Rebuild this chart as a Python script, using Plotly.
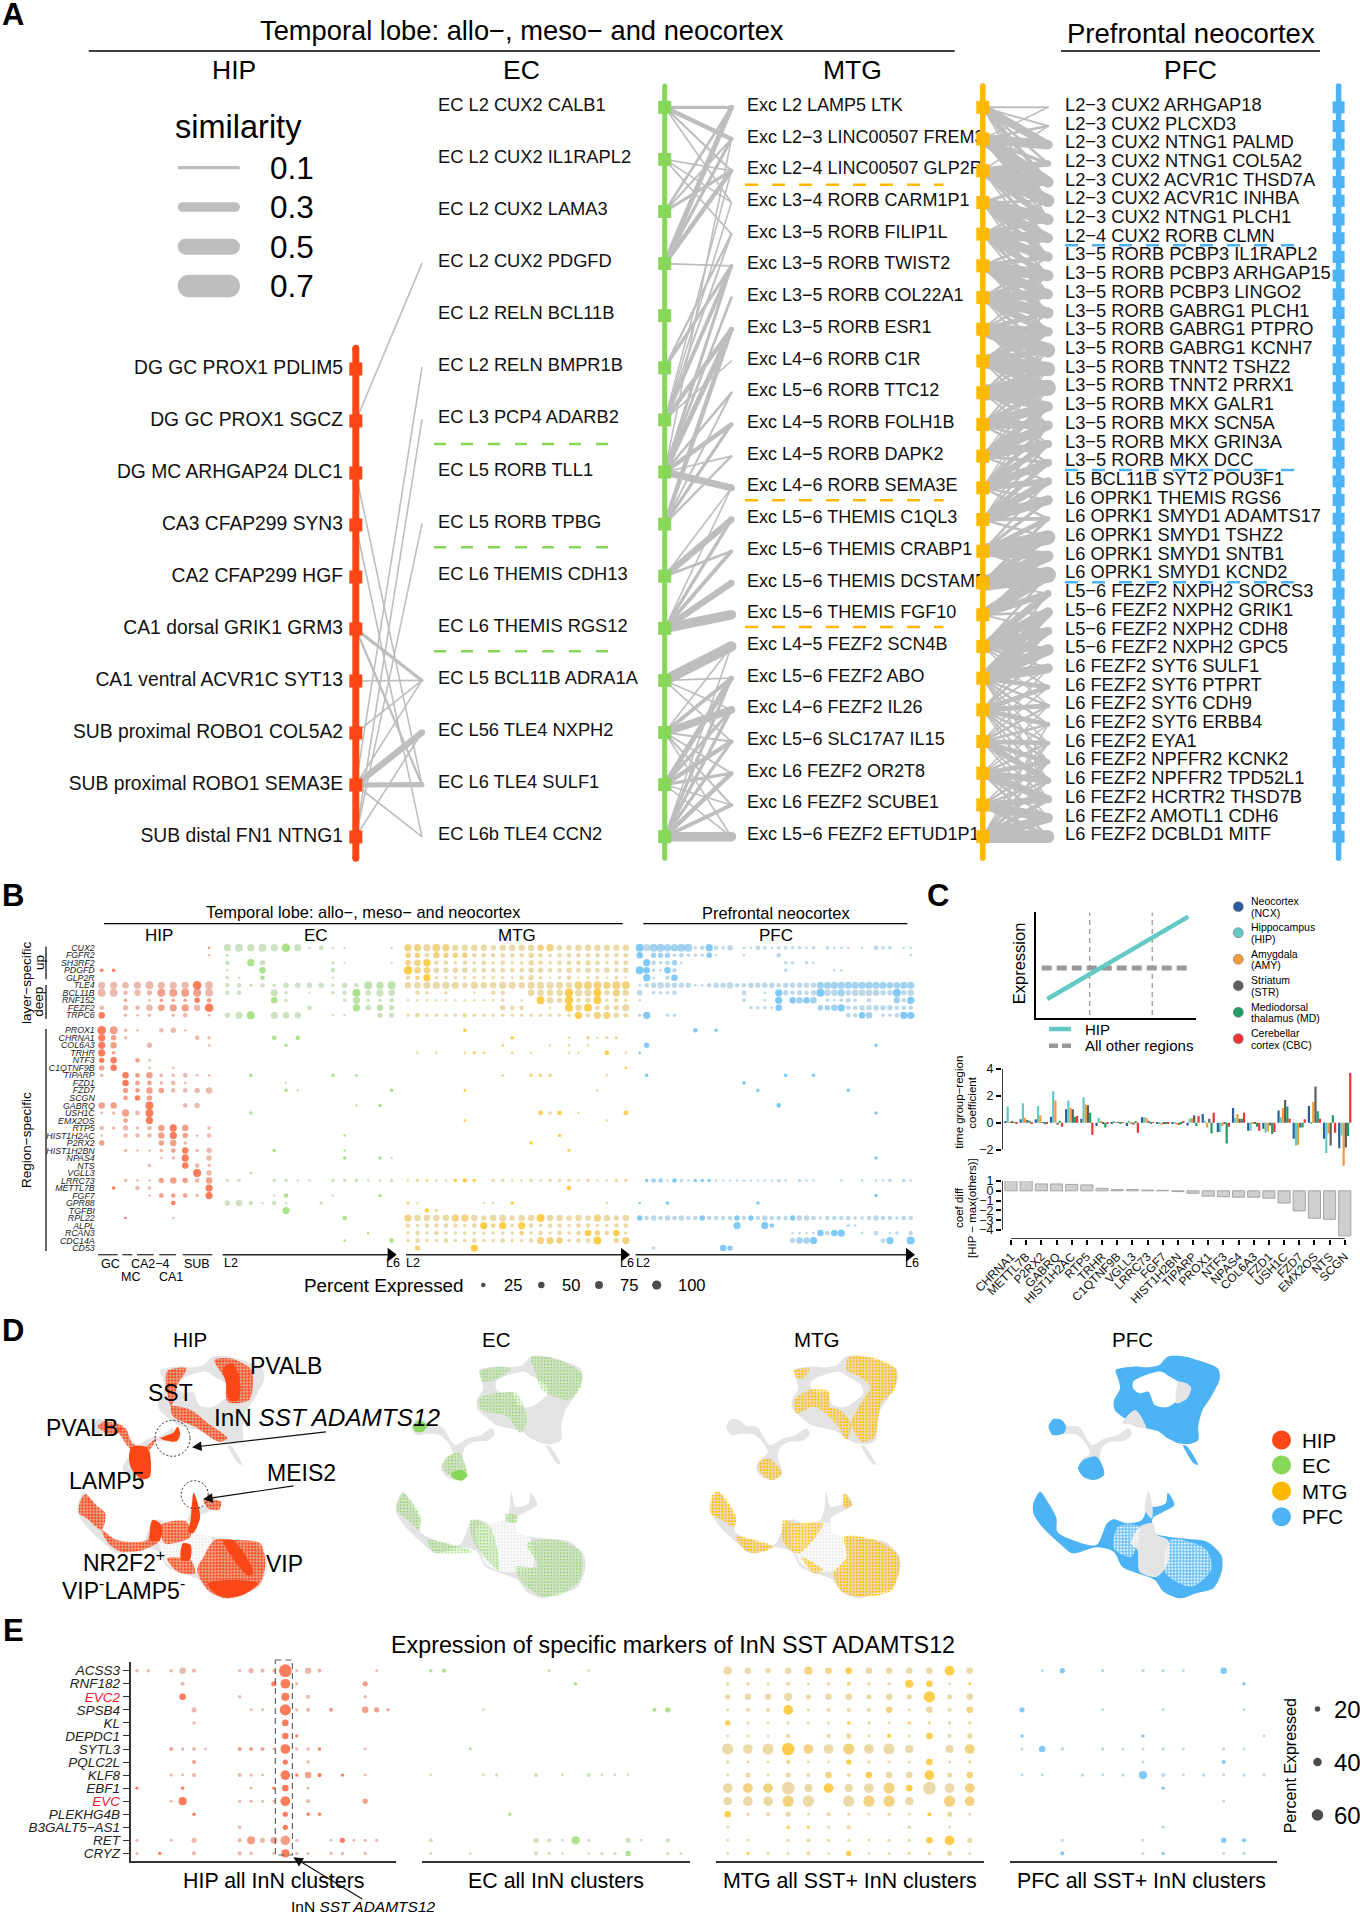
import math
import plotly.graph_objects as go

W, H = 1360, 1913
FONT = 'Liberation Sans'
RED, GREEN, ORANGE, BLUE = '#FB4616', '#87D75A', '#FFB800', '#4CB4F5'
EDGE = '#BEBEBE'

# --- PANEL A DATA ---
HIP_NODES = ['DG GC PROX1 PDLIM5', 'DG GC PROX1 SGCZ', 'DG MC ARHGAP24 DLC1', 'CA3 CFAP299 SYN3', 'CA2 CFAP299 HGF',
             'CA1 dorsal GRIK1 GRM3', 'CA1 ventral ACVR1C SYT13', 'SUB proximal ROBO1 COL5A2',
             'SUB proximal ROBO1 SEMA3E', 'SUB distal FN1 NTNG1']
EC_NODES = ['EC L2 CUX2 CALB1', 'EC L2 CUX2 IL1RAPL2', 'EC L2 CUX2 LAMA3', 'EC L2 CUX2 PDGFD', 'EC L2 RELN BCL11B',
            'EC L2 RELN BMPR1B', 'EC L3 PCP4 ADARB2', 'EC L5 RORB TLL1', 'EC L5 RORB TPBG', 'EC L6 THEMIS CDH13',
            'EC L6 THEMIS RGS12', 'EC L5 BCL11B ADRA1A', 'EC L56 TLE4 NXPH2', 'EC L6 TLE4 SULF1', 'EC L6b TLE4 CCN2']
MTG_NODES = ['Exc L2 LAMP5 LTK', 'Exc L2−3 LINC00507 FREM3', 'Exc L2−4 LINC00507 GLP2R', 'Exc L3−4 RORB CARM1P1',
             'Exc L3−5 RORB FILIP1L', 'Exc L3−5 RORB TWIST2', 'Exc L3−5 RORB COL22A1', 'Exc L3−5 RORB ESR1',
             'Exc L4−6 RORB C1R', 'Exc L5−6 RORB TTC12', 'Exc L4−5 RORB FOLH1B', 'Exc L4−5 RORB DAPK2',
             'Exc L4−6 RORB SEMA3E', 'Exc L5−6 THEMIS C1QL3', 'Exc L5−6 THEMIS CRABP1', 'Exc L5−6 THEMIS DCSTAMP',
             'Exc L5−6 THEMIS FGF10', 'Exc L4−5 FEZF2 SCN4B', 'Exc L5−6 FEZF2 ABO', 'Exc L4−6 FEZF2 IL26',
             'Exc L5−6 SLC17A7 IL15', 'Exc L6 FEZF2 OR2T8', 'Exc L6 FEZF2 SCUBE1', 'Exc L5−6 FEZF2 EFTUD1P1']
PFC_NODES = ['L2−3 CUX2 ARHGAP18', 'L2−3 CUX2 PLCXD3', 'L2−3 CUX2 NTNG1 PALMD', 'L2−3 CUX2 NTNG1 COL5A2',
             'L2−3 CUX2 ACVR1C THSD7A', 'L2−3 CUX2 ACVR1C INHBA', 'L2−3 CUX2 NTNG1 PLCH1', 'L2−4 CUX2 RORB CLMN',
             'L3−5 RORB PCBP3 IL1RAPL2', 'L3−5 RORB PCBP3 ARHGAP15', 'L3−5 RORB PCBP3 LINGO2',
             'L3−5 RORB GABRG1 PLCH1', 'L3−5 RORB GABRG1 PTPRO', 'L3−5 RORB GABRG1 KCNH7', 'L3−5 RORB TNNT2 TSHZ2',
             'L3−5 RORB TNNT2 PRRX1', 'L3−5 RORB MKX GALR1', 'L3−5 RORB MKX SCN5A', 'L3−5 RORB MKX GRIN3A',
             'L3−5 RORB MKX DCC', 'L5 BCL11B SYT2 POU3F1', 'L6 OPRK1 THEMIS RGS6', 'L6 OPRK1 SMYD1 ADAMTS17',
             'L6 OPRK1 SMYD1 TSHZ2', 'L6 OPRK1 SMYD1 SNTB1', 'L6 OPRK1 SMYD1 KCND2', 'L5−6 FEZF2 NXPH2 SORCS3',
             'L5−6 FEZF2 NXPH2 GRIK1', 'L5−6 FEZF2 NXPH2 CDH8', 'L5−6 FEZF2 NXPH2 GPC5', 'L6 FEZF2 SYT6 SULF1',
             'L6 FEZF2 SYT6 PTPRT', 'L6 FEZF2 SYT6 CDH9', 'L6 FEZF2 SYT6 ERBB4', 'L6 FEZF2 EYA1',
             'L6 FEZF2 NPFFR2 KCNK2', 'L6 FEZF2 NPFFR2 TPD52L1', 'L6 FEZF2 HCRTR2 THSD7B', 'L6 FEZF2 AMOTL1 CDH6',
             'L6 FEZF2 DCBLD1 MITF']
HIP_EC_EDGES = [(1, 3, .05), (8, 5, .05), (9, 6, .05), (9, 8, .05), (2, 13, .05), (3, 14, .05), (5, 11, .1), (5, 13, .07),
                (6, 11, .05), (8, 11, .05), (8, 12, .2), (8, 13, .16), (8, 14, .05), (9, 12, .05), (7, 11, .05)]
EC_MTG_EDGES = [(0, 0, .1), (0, 1, .14), (0, 2, .07), (0, 3, .05), (1, 2, .05), (1, 3, .05), (1, 4, .05), (2, 0, .08),
                (2, 1, .06), (2, 2, .1), (3, 0, .16), (3, 1, .1), (3, 2, .14), (3, 5, .05), (5, 4, .07), (5, 5, .1),
                (6, 5, .12), (6, 7, .14), (6, 4, .06), (6, 8, .05), (6, 3, .05), (7, 5, .1), (7, 7, .16), (7, 10, .14),
                (7, 11, .05), (7, 12, .22), (7, 9, .08), (7, 6, .08), (8, 7, .14), (8, 10, .1), (8, 11, .07), (8, 9, .06),
                (9, 13, .2), (9, 12, .05), (9, 14, .08), (10, 14, .12), (10, 15, .2), (10, 16, .3), (10, 13, .1),
                (10, 12, .05), (11, 17, .32), (11, 19, .05), (11, 18, .05), (12, 18, .12), (12, 19, .24), (12, 20, .06),
                (12, 21, .06), (12, 17, .05), (13, 20, .14), (13, 21, .1), (13, 18, .16), (13, 19, .1), (13, 22, .05),
                (14, 23, .3), (14, 22, .12), (14, 21, .14), (14, 20, .1), (14, 19, .1), (14, 18, .1),
                (12, 22, .06), (13, 23, .05), (12, 23, .05), (11, 20, .05), (14, 17, .05), (6, 2, .05), (7, 1, .05)]
MTG_PFC_EDGES = [(0, 0, .06), (0, 1, .06), (0, 2, .25), (0, 3, .08), (0, 4, .14), (1, 2, .3), (1, 4, .35), (1, 1, .08),
                 (1, 5, .2), (2, 4, .3), (2, 5, .4), (2, 3, .2), (2, 6, .2), (3, 6, .35), (3, 7, .3), (3, 8, .15),
                 (3, 5, .08), (4, 7, .3), (4, 9, .2), (4, 8, .3), (4, 6, .15), (5, 9, .35), (5, 10, .3), (5, 11, .2),
                 (5, 8, .15), (6, 10, .3), (6, 11, .35), (6, 12, .25), (6, 9, .15), (7, 12, .3), (7, 13, .45), (7, 14, .2),
                 (7, 11, .15), (8, 13, .2), (8, 14, .45), (8, 15, .25), (8, 12, .2), (9, 15, .5), (9, 16, .3), (9, 14, .2),
                 (9, 13, .08), (10, 16, .3), (10, 17, .25), (10, 15, .15), (10, 18, .08), (11, 17, .3), (11, 18, .25),
                 (11, 16, .2), (11, 19, .1), (12, 18, .2), (12, 19, .25), (12, 17, .15), (12, 22, .08), (12, 20, .2),
                 (13, 21, .3), (13, 20, .25), (13, 19, .15), (13, 22, .12), (14, 23, .45), (14, 24, .3), (14, 22, .15),
                 (15, 25, .5), (15, 24, .35), (15, 23, .2), (16, 25, .35), (16, 26, .2), (16, 27, .08), (17, 26, .22),
                 (17, 27, .3), (17, 28, .25), (17, 29, .2), (17, 30, .08), (18, 27, .3), (18, 28, .25), (18, 29, .35),
                 (18, 30, .3), (18, 31, .15), (18, 32, .08), (18, 33, .08), (18, 35, .06), (19, 31, .15), (19, 32, .15),
                 (19, 33, .15), (19, 34, .08), (19, 29, .08), (19, 35, .08), (19, 36, .06), (20, 33, .08), (20, 34, .15),
                 (20, 35, .15), (20, 36, .2), (20, 32, .08), (21, 35, .15), (21, 36, .2), (21, 37, .25), (21, 34, .08),
                 (21, 38, .08), (22, 37, .2), (22, 38, .3), (22, 39, .15), (23, 39, .4), (23, 38, .3), (23, 37, .15),
                 (23, 35, .08),
                 (0, 5, .06), (0, 6, .05), (1, 0, .05), (1, 3, .1), (1, 6, .08), (2, 1, .05), (2, 7, .1), (2, 8, .06),
                 (3, 4, .1), (3, 9, .08), (3, 10, .06), (4, 5, .08), (4, 10, .1), (4, 11, .06), (5, 7, .08), (5, 12, .08),
                 (6, 8, .08), (6, 13, .1), (6, 14, .06), (7, 10, .08), (7, 15, .08), (7, 9, .06), (8, 11, .08), (8, 16, .08),
                 (8, 17, .06), (9, 12, .08), (9, 17, .1), (9, 18, .06), (10, 14, .08), (10, 19, .08), (10, 13, .06),
                 (11, 15, .08), (11, 20, .08), (11, 14, .05), (12, 16, .06), (12, 21, .08), (12, 15, .05), (13, 17, .06),
                 (13, 18, .08), (13, 23, .08), (14, 21, .1), (14, 20, .08), (14, 25, .1), (15, 22, .1), (15, 26, .06),
                 (16, 24, .1), (16, 28, .06), (17, 31, .06), (17, 25, .08), (17, 32, .05), (18, 26, .06), (18, 34, .05),
                 (18, 36, .05), (19, 30, .06), (19, 37, .05), (19, 28, .06), (20, 31, .05), (20, 37, .06), (20, 30, .05),
                 (20, 38, .05), (21, 33, .05), (21, 32, .05), (21, 39, .08), (22, 36, .08), (22, 35, .08), (22, 34, .05),
                 (23, 36, .1), (23, 34, .06), (23, 33, .05)]
SIM_LEGEND = [0.1, 0.3, 0.5, 0.7]

# --- PANEL B DATA ---
# one character per cluster: '.' no dot, letter/digit gives the size step;
# lower case = low average expression, digit = medium, upper case = high
B_GENES = ['CUX2', 'FGFR2', 'SH3RF2', 'PDGFD', 'GLP2R', 'TLE4', 'BCL11B', 'RNF152', 'FEZF2', 'TRPC6', 'PROX1', 'CHRNA1',
           'COL6A3', 'TRHR', 'NTF3', 'C1QTNF9B', 'TIPARP', 'FZD1', 'FZD7', 'SCGN', 'GABRQ', 'USH1C', 'EMX2OS', 'RTP5',
           'HIST1H2AC', 'P2RX2', 'HIST1H2BN', 'NPAS4', 'NTS', 'VGLL3', 'LRRC73', 'METTL7B', 'FGF7', 'GPR88', 'TGFBI',
           'RPL22', 'ALPL', 'RCAN3', 'CDC14A', 'CD53']
B_HIP = ['.........1', '.........a', '', 'BB', '', 'ffefgfffHg', 'ggced7777g', '..2.a222D3', 'c.dce566eH', 'E.bab.bc.a',
         'H7ba.cda', 'F4b.....cb', 'F5..d....a', 'F2', 'DE.3a', '4E..a.a', 'b.E35bbcaa', '..E33bca', '..4354ccde',
         '..3D4', '55..G..cd', 'ab6cG', '..3.F', 'cbdbc5F5.b', 'a.ccc5F4ac', '4....45b', '..baab3Ebd', '.....abF.d',
         '....b..Ecb', '........Gd', '..baa454c5', '.B.cb....F', '....a333bF', '......C', '', '..A...a', '', '', '', '']
B_EC = ['fgfgfHfacaa...a', 'A', 'c.Fd.....ba...a', 'a..E.....c', 'ba.C.....a', 'ccbcbddddbdc767', 'cc..fb.a.bcGdfe',
        '....Eb....b6bbc', '.......c...Fd5d', 'dfG.fee..aa..dd', '', '....C.C', '.....B', '', '', '', '..B......B.A',
        '.....a', '.....Ba.......B', '', '...........a.B', '..B', '', '', '..........A', '', '....B.....A',
        '..........B..Ba', '', '..A', 'bb..bbaa.bbbaab', '', '....aC...a...B', 'decaca..b', '.....F', '..........C', '',
        '............A', '..........A...C', '']
B_MTG = ['66f76eeeedeeee56ddeeeeee', '44c5444ccccccdcbcccccccc', '45Fccbcbcbcbbdcbcccdcbcc', 'H55ddddccccccddccdcdcdcd',
         'c3Fbbbbbbbbacdbabcabbaba', 'eeffffdfeeffeffffe777677', '.cb.b..a.cc..eeeeHffGd6e', 'aaaaaaaaaab.a.GedHcdGbcb',
         '..........dcc..a.GeGcddf', 'bcbbbbcbbbbbbbbbbbFc66dc', '......B', '...........B.....a.2abb', '..........A....a.a.a',
         '.a.a..121..1.a...aa..C.a', '', '.......................A', '..........1..222.....a', '', '......A.............a',
         '', '', '..............CbC.a....C', '......A..............a', '', '................B', '.............B',
         '.................2', '', '', '', 'abAaaBCB.bbaababbbabaabb', '.................C', '', 'Aa......aa.B.........a',
         '..Cb', '6eeee66edefdeeGeeded6ede', 'cbccccbcF3FbFcbccbccbbcc', 'bcbcbbbbbbbb3bcbcbcE4cEb',
         'bcbbcbbcbbcbbc665bccG.d6', '.4.....F']
B_PFC = ['Gf776677bcFcbd.aacbabbbbab.baaa.a.cbb.aa', 'E.444bcbbbDa...a....c..................a',
         '.Fcbc4a..............bb.ba', 'GEbaEc...............b......aa', '.Fa.cE',
         'acdeddddaacddeccddddcddddd66666666665566', 'd.bbbc.........c..a.FdcdcdGee6deeeeddGde',
         'a..............b..a.F.E5E5.babcb.c...5cF', '................bbbaE.....445Fccdddddccc',
         'bF..bb........................ccE5.bbcFF', '........C..B', '', '.D................................B', 'A', '', '',
         '.B...................B...B', '...............B', '.................B............B', '', '....................C',
         '..................................B', '', '', '', '', '', '..................................B', '', '',
         '.B33aCbaBBBaaaaaaaaaba.baa...a..a.aab.ba', '', '..................................B', 'A...B............B',
         '', 'DcdcdcdccDccccDcDcdcccDddcbccccbbcdccbcc', '..............F...FC..........ba',
         '......................aaaaEcEF..a.c.ab.c', '......................d55F.........cF..G', '..b.........ED']
B_PCT = [8, 15, 25, 35, 50, 62, 75, 88, 100]
B_LEGEND = [25, 50, 75, 100]

# --- PANEL C DATA ---
C_GENES = ['CHRNA1', 'METTL7B', 'P2RX2', 'GABRQ', 'HIST1H2AC', 'RTP5', 'TRHR', 'C1QTNF9B', 'VGLL3', 'LRRC73', 'FGF7',
           'HIST1H2BN', 'TIPARP', 'PROX1', 'NTF3', 'NPAS4', 'COL6A3', 'FZD1', 'USH1C', 'FZD7', 'EMX2OS', 'NTS', 'SCGN']
C_NCX = [.12, .25, .25, .45, 1.0, .3, -.25, -.05, -.25, .4, -.08, -.08, -.2, .65, -.7, 1.1, -.6, -.45, .9, -1.2, 1.25, -1.2, -1.9]
C_HIP = [1.2, 1.45, 1.25, 2.35, 1.65, 1.9, .35, .1, .15, .4, -.05, -.05, .3, .15, -.7, .35, -.6, -.75, .4, -1.7, -.1, -2.25, -.95]
C_AMY = [.05, .35, .55, 1.65, 1.1, 1.35, .1, .05, -.1, .35, -.15, -.15, .35, -.35, -.25, .65, -.1, -.65, 1.1, -1.65, 1.55, -.8, -3.2]
C_STR = [.08, .2, -.02, -.15, 1.0, 1.3, -.1, .03, -.15, .15, -.1, -.15, .55, .3, -.1, .3, -.1, -.2, 1.7, -.35, 2.7, -1.7, -1.85]
C_MD = [.05, .15, -.12, .15, .45, .75, -.35, -.05, .1, -.05, -.05, -.12, -.25, -.8, -1.55, .3, -.3, -.85, 1.2, -.35, .85, .55, -1.0]
C_CBC = [-.05, -.1, -.05, -.3, .5, -.9, -.05, .05, -.75, .03, -.05, .08, .5, .75, -.3, .75, -.6, -.7, .3, .25, .3, -.75, 3.7]
C_DIFF = [1.1, 1.1, .7, .7, .65, .6, .25, .12, .13, .07, .05, -.08, -.25, -.55, -.6, -.65, -.65, -.75, -1.25, -2.05, -2.8, -2.9, -4.6]
C_REGIONS = [('Neocortex', '(NCX)'), ('Hippocampus', '(HIP)'), ('Amygdala', '(AMY)'), ('Striatum', '(STR)'),
             ('Mediodorsal', 'thalamus (MD)'), ('Cerebellar', 'cortex (CBC)')]
C_COLORS = ['#2B5C9B', '#62C9C5', '#F59A38', '#5E5E5E', '#1F9E63', '#EE3335']
SCHEMA_X = [.069, .952]
SCHEMA_HIP = [.176, .953]
SCHEMA_OTHER_X = [.034, .952]
SCHEMA_OTHER = [.469, .469]
SCHEMA_T = [.334, .726]

# --- PANEL D DATA (outlines traced from the embedding) ---
UP_MAIN = [(1005, 180), (1045, 170), (1080, 172), (1105, 165), (1125, 140), (1165, 140), (1205, 155), (1240, 175),
           (1245, 205), (1225, 260), (1205, 300), (1195, 350), (1195, 390), (1175, 402), (1150, 400), (1125, 385),
           (1105, 365), (1075, 355), (1045, 345), (1025, 325), (1003, 300), (1000, 275), (1015, 235), (1010, 205)]
UP_HOLE = [(1045, 215), (1075, 195), (1110, 185), (1130, 200), (1160, 225), (1165, 250), (1145, 275), (1120, 292),
           (1095, 285), (1080, 245), (1060, 250), (1045, 235)]
UP_STEM = [(1035, 355), (1042, 372), (1025, 392), (995, 395), (975, 410), (968, 440), (975, 470), (978, 495), (955, 510),
           (930, 500), (918, 475), (930, 445), (945, 430), (938, 405), (915, 375), (880, 372), (860, 375), (850, 350),
           (860, 328), (880, 330), (895, 348), (920, 350), (950, 405), (980, 385), (1010, 375)]
UP_TAIL = [(1160, 405), (1170, 410), (1195, 465), (1185, 460)]
LOW_MAIN = [(830, 545), (850, 580), (868, 625), (870, 665), (905, 690), (960, 705), (985, 640), (1000, 628), (1030, 640),
            (1065, 630), (1075, 600), (1080, 545), (1090, 590), (1120, 580), (1125, 548), (1140, 585), (1115, 605),
            (1090, 625), (1095, 670), (1125, 680), (1180, 688), (1215, 695), (1248, 735), (1250, 780), (1230, 835),
            (1190, 850), (1155, 865), (1115, 845), (1095, 810), (1055, 790), (1020, 770), (1000, 725), (960, 712),
            (905, 730), (875, 700), (835, 650), (815, 610), (815, 580)]
LOW_GAP = [(1000, 650), (1090, 640), (1125, 690), (1130, 770), (1060, 785), (1020, 760)]
HIP_SOLID = [[(515, 175), (535, 160), (550, 190), (555, 240), (548, 272), (528, 270), (522, 220)],
             [(370, 385), (400, 368), (410, 350), (416, 372), (408, 394), (385, 392)],
             [(303, 412), (335, 410), (345, 425), (346, 500), (328, 508), (305, 480), (298, 450)],
             [(440, 630), (447, 548), (462, 620), (445, 670), (435, 665)],
             [(422, 700), (440, 705), (438, 750), (418, 750)],
             [(480, 820), (540, 810), (595, 820), (560, 855), (520, 862), (495, 850)],
             [(515, 692), (540, 692), (585, 790), (570, 795), (530, 730)],
             [(352, 630), (372, 645), (368, 690), (348, 692)]]
HIP_DOTTED = [[(495, 150), (530, 145), (580, 180), (575, 270), (525, 275), (520, 210)], [(385, 185), (430, 175), (410, 225), (395, 290)],
              [(395, 290), (440, 300), (480, 340), (525, 385), (505, 395), (450, 350), (400, 320)],
              [(225, 350), (240, 335), (285, 350), (265, 375)], [(197, 553), (222, 585), (243, 610), (235, 660), (200, 625), (183, 610), (185, 575)],
              [(235, 660), (270, 690), (340, 690), (350, 635), (372, 645), (370, 690), (330, 720), (280, 725), (250, 700)],
              [(470, 570), (510, 575), (505, 600), (480, 595)], [(495, 690), (540, 690), (600, 700), (612, 760), (600, 820), (560, 855), (520, 865), (480, 840), (455, 780), (470, 740)],
              [(385, 745), (440, 750), (450, 790), (410, 785)], [(372, 645), (430, 635), (440, 680), (380, 700)],
              [(270, 355), (290, 355), (305, 400), (335, 410), (360, 385), (345, 420), (305, 420), (280, 380)]]
EC_SOLID = [[(952, 350), (965, 332), (985, 345), (975, 365), (958, 365)], [(1040, 490), (1065, 480), (1078, 495), (1065, 512), (1045, 505)]]
EC_DOTTED = [[(1225, 140), (1290, 150), (1340, 190), (1340, 230), (1310, 270), (1250, 240), (1235, 190)],
             [(1110, 180), (1180, 175), (1130, 215), (1112, 215)], [(1105, 265), (1190, 250), (1215, 330), (1200, 370), (1170, 320), (1110, 300)],
             [(1030, 440), (1060, 430), (1075, 490), (1065, 510), (1035, 495), (1020, 470)],
             [(915, 600), (930, 550), (970, 620), (965, 660), (940, 630)], [(985, 690), (1090, 725), (1040, 730), (1000, 725)],
             [(1085, 630), (1130, 650), (1150, 780), (1110, 730), (1090, 690)], [(1165, 610), (1195, 620), (1190, 640), (1170, 635)],
             [(1215, 700), (1290, 690), (1340, 730), (1340, 800), (1300, 850), (1250, 860), (1200, 810), (1190, 770), (1240, 770)]]
MTG_DOTTED = [[(390, 140), (450, 145), (500, 180), (495, 240), (465, 280), (450, 380), (420, 395), (395, 340), (415, 285), (440, 230), (415, 200), (385, 180)],
              [(265, 180), (300, 175), (285, 205), (270, 205)],
              [(265, 270), (300, 240), (345, 245), (345, 290), (370, 300), (395, 340), (385, 390), (360, 340), (310, 290), (270, 310)],
              [(180, 460), (205, 445), (235, 490), (215, 510), (190, 495)], [(75, 555), (90, 545), (130, 620), (125, 650), (90, 625), (70, 610)],
              [(130, 680), (215, 710), (175, 730), (150, 720)], [(240, 630), (265, 640), (330, 640), (275, 730), (240, 700)],
              [(380, 680), (450, 690), (505, 740), (490, 840), (410, 860), (370, 840), (355, 790), (385, 740)],
              [(378, 548), (398, 585), (380, 595)], [(280, 740), (330, 780), (310, 790)]]
PFC_SOLID = [UP_MAIN, [(960, 440), (975, 470), (978, 495), (955, 510), (930, 500), (918, 475), (930, 450)],
             [(850, 350), (860, 328), (880, 330), (890, 350), (885, 370), (860, 375)], UP_TAIL, LOW_MAIN]
PFC_GREY = [[(1150, 215), (1178, 230), (1170, 265), (1145, 280)], [(1060, 650), (1090, 640), (1100, 675), (1125, 690), (1125, 760), (1100, 800), (1060, 785), (1055, 720), (1040, 700)],
            [(1072, 600), (1080, 545), (1090, 590), (1088, 625)], [(1020, 340), (1050, 300), (1075, 355), (1045, 345)]]
PFC_FLECKS = [[(1130, 690), (1215, 720), (1225, 780), (1180, 830), (1120, 790)], [(1010, 650), (1060, 650), (1040, 740), (1000, 715)]]
REGIONS = ['HIP', 'EC', 'MTG', 'PFC']
REGION_COLORS = [RED, GREEN, ORANGE, BLUE]

# --- PANEL E DATA ---
E_GENES = ['ACSS3', 'RNF182', 'EVC2', 'SPSB4', 'KL', 'DEPDC1', 'SYTL3', 'PQLC2L', 'KLF8', 'EBF1', 'EVC', 'PLEKHG4B',
           'B3GALT5−AS1', 'RET', 'CRYZ']
E_HIP = ['bb.bec...bdcbIaec....a', '....c.......DGb.....4', '....E....b...F.c....b', '.....d....aa.Hbc.3..542',
         '.....b.......E', '.............EA', '...3bca..333aGbbB...a', '.....3.......D.b', '...bac...cba.GB5C.B.a',
         'A...B.....a.BE.a', '...aF....bbaaG.c....4', '.....B.......D.BB', '.........b...D', 'b..a.d...c6d57b..aDabb',
         'a.B..c...cb.aFba.bb.b']
E_EC = ['BC.......b..a', '...........B', '', '....a............CD', '', '', '...A', '', 'a...ab..c.a.caaa', '', '',
        '......B', '', 'c.......dcaFb..da.c', 'b..a....cba.abbD..ba']
E_MTG = ['fede65EeeeeGe', 'bbbcab3bbFEaA', 'deefdeededHde', 'bccGbccc5bec5', 'DabbaaBbaBbbb', 'abac.cdaCbEcd', 'hghI7g8ghf.f7',
         'baa3aaDbbaEab', 'adadc5cEeeGd5', 'g77ifGfg8Eig7', 'fgg8h.h88f.87', 'EbcdacbabaCda', 'a..BAac..b.a.', 'aa.bcbbabbEGd',
         'aBbacaDaabbda']
E_PFC = ['.aD.b.bba.E', '...........B', '', 'D...a..a...a', '', 'B.....B.....a', 'aEb.baaba.ba', '......a...C', 'aa.babFcababb',
         '.......B', '..........a', '', '.......a', '..b...a...DC', '..C...aB..ab']
E_PCT = [3, 6, 11, 18, 27, 38, 48, 58, 68]
E_LEGEND = [20, 40, 60]

fig = go.Figure()
axes = {}
annotations = []
shapes = []
n_axes = 1


def new_axes(x0, x1, y0, y1, xr, yr, xopts=None, yopts=None):
    # adds a pair of axes placed at the given pixel box
    global n_axes
    n_axes += 1
    hidden = dict(visible=False, fixedrange=True, automargin=False)
    xa = dict(hidden, domain=[x0 / W, x1 / W], range=list(xr), anchor=f'y{n_axes}')
    ya = dict(hidden, domain=[1 - y1 / H, 1 - y0 / H], range=list(yr), anchor=f'x{n_axes}')
    xa.update(xopts or {})
    ya.update(yopts or {})
    axes[f'xaxis{n_axes}'] = xa
    axes[f'yaxis{n_axes}'] = ya
    return f'x{n_axes}', f'y{n_axes}'


def label(x, y, s, size, anchor='center', angle=0, color='black', bold=False):
    annotations.append(dict(x=x, y=y, xref='x', yref='y', text=f'<b>{s}</b>' if bold else s, showarrow=False,
                            font=dict(size=size, color=color, family=FONT), xanchor=anchor, yanchor='middle',
                            textangle=angle, align='left'))


def arrow(x0, y0, x1, y1):
    annotations.append(dict(x=x1, y=y1, ax=x0, ay=y0, xref='x', yref='y', axref='x', ayref='y', text='', showarrow=True,
                            arrowhead=2, arrowsize=1.6, arrowwidth=1.2, arrowcolor='#111'))


def line(xs, ys, color='black', width=1.5, dash=None, xa='x', ya='y'):
    fig.add_trace(go.Scatter(x=xs, y=ys, mode='lines', xaxis=xa, yaxis=ya, hoverinfo='skip', cliponaxis=False,
                             line=dict(color=color, width=width, dash=dash)))


def span_range(p0, p1, first_px, step, first_val=1):
    return (p0 - first_px) / step + first_val, (p1 - first_px) / step + first_val


def dots(rows, slots, n_cols, xa, ya, color, pct, size_of):
    xs, ys, sizes, levels = [], [], [], []
    for row, slot in zip(rows, slots):
        for col, ch in enumerate(row[:n_cols]):
            if ch == '.':
                continue
            if ch.isdigit():
                step, level = int(ch), .65
            elif ch.islower():
                step, level = ord(ch) - 96, .38
            else:
                step, level = ord(ch) - 64, 1
            xs.append(col + 1)
            ys.append(slot)
            sizes.append(size_of(pct[step - 1]))
            levels.append(level)
    fig.add_trace(go.Scatter(x=xs, y=ys, mode='markers', xaxis=xa, yaxis=ya, hoverinfo='skip', cliponaxis=False,
                             marker=dict(size=sizes, color=levels, cmin=0, cmax=1, line=dict(width=0),
                                         colorscale=[[0, '#D3D3D3'], [1, color]])))


# --- PANEL A ---
BAR_X = dict(HIP=355.8, EC=664.7, MTG=982.8, PFC=1338.6)
FIRST_Y, LAST_Y = 107.3, 836.7


def node_y(i, n):
    return FIRST_Y + i * (LAST_Y - FIRST_Y) / (n - 1)


def hip_y(i):
    return 369 + i * 52.0


def edges(pairs, x0, x1, y_src, y_dst):
    for s, d, sim in pairs:
        w = 32 * sim
        fig.add_trace(go.Scatter(x=[x0, x1], y=[y_src(s), y_dst(d)], mode='lines', hoverinfo='skip',
                                 line=dict(color=EDGE, width=w)))
        fig.add_trace(go.Scatter(x=[x1], y=[y_dst(d)], mode='markers', hoverinfo='skip',
                                 marker=dict(color=EDGE, size=w, line=dict(width=0))))


edges(HIP_EC_EDGES, BAR_X['HIP'], 421.9, hip_y, lambda i: node_y(i, 15))
edges(EC_MTG_EDGES, BAR_X['EC'], 731.4, lambda i: node_y(i, 15), lambda i: node_y(i, 24))
edges(MTG_PFC_EDGES, BAR_X['MTG'], 1048, lambda i: node_y(i, 24), lambda i: node_y(i, 40))


def node_labels(names, x, ys, pos, size):
    fig.add_trace(go.Scatter(x=[x] * len(names), y=ys, mode='text', text=names, textposition=pos, hoverinfo='skip',
                             textfont=dict(size=size, family=FONT, color='#111')))


node_labels(HIP_NODES, 343, [hip_y(i) for i in range(10)], 'middle left', 19.3)
node_labels(EC_NODES, 438, [node_y(i, 15) - 1 for i in range(15)], 'middle right', 18.3)
node_labels(MTG_NODES, 747, [node_y(i, 24) - 1 for i in range(24)], 'middle right', 18)
node_labels(PFC_NODES, 1065, [node_y(i, 40) - 1 for i in range(40)], 'middle right', 18.3)

for x, top, ys, color, bar_w, sq in [(BAR_X['HIP'], 348.3, [hip_y(i) for i in range(10)], RED, 7, 13),
                                     (BAR_X['EC'], 86, [node_y(i, 15) for i in range(15)], GREEN, 5, 13),
                                     (BAR_X['MTG'], 86, [node_y(i, 24) for i in range(24)], ORANGE, 5.5, 13),
                                     (BAR_X['PFC'], 86, [node_y(i, 40) for i in range(40)], BLUE, 5.5, 12)]:
    line([x, x], [top, 858.3], color, bar_w)
    fig.add_trace(go.Scatter(x=[x, x], y=[top, 858.3], mode='markers', hoverinfo='skip',
                             marker=dict(color=color, size=bar_w, line=dict(width=0))))
    fig.add_trace(go.Scatter(x=[x] * len(ys), y=ys, mode='markers', hoverinfo='skip',
                             marker=dict(color=color, size=sq, symbol='square', line=dict(width=0))))

for y in [444, 547.3, 651.3]:
    line([434, 611.6], [y, y], GREEN, 2.5, '12px,15px')
for y in [184.7, 500.3, 627]:
    line([745, 943.5], [y, y], ORANGE, 2.5, '13px,14px')
for y in [245.3, 470, 582.3]:
    line([1065, 1298.4], [y, y], BLUE, 2.5, '13px,14px')

line([88.8, 954.6], [51, 51], 'black', 1.3)
line([1061, 1320], [51, 51], 'black', 1.3)
label(522, 30, 'Temporal lobe: allo−, meso− and neocortex', 27.3)
label(1191, 33, 'Prefrontal neocortex', 27.5)
for name, x in zip(REGIONS, [233.5, 521, 852, 1190]):
    label(x, 70, name, 26.5)
label(238, 127, 'similarity', 32.5)
for sim, y in zip(SIM_LEGEND, [167.7, 207, 246.7, 286]):
    w = 32 * sim
    line([177.7 + w / 2, 240 - w / 2], [y, y], EDGE, w)
    fig.add_trace(go.Scatter(x=[177.7 + w / 2, 240 - w / 2], y=[y, y], mode='markers', hoverinfo='skip',
                             marker=dict(color=EDGE, size=w, line=dict(width=0))))
    label(268, y, f'{sim}', 31.5, 'left')

for s, x, y in [('A', 13, 14), ('B', 13, 895), ('C', 938, 895), ('D', 13, 1330), ('E', 13, 1630)]:
    label(x, y, s, 31, bold=True)

# --- PANEL B ---
B_SLOTS = [i if i < 10 else i + 1 for i in range(40)]
B_Y0, B_DY = 947.7, 7.51
b_yr = span_range(1254, 942, B_Y0, B_DY, 0)
b_size = lambda p: .92 * math.sqrt(p)
b_panels = [(B_HIP, 10, 101.7, 11.93, RED), (B_EC, 15, 227.3, 11.74, GREEN), (B_MTG, 24, 408, 9.47, ORANGE),
            (B_PFC, 40, 639.7, 6.95, BLUE)]
for k, (rows, n, first, step, color) in enumerate(b_panels):
    p0, p1 = first - step / 2, first + (n - .5) * step
    yopts = None
    if k == 0:
        yopts = dict(visible=True, showgrid=False, zeroline=False, showline=False, ticks='', tickvals=B_SLOTS,
                     ticktext=[f'<i>{g}</i>' for g in B_GENES], tickfont=dict(size=8.8, family=FONT, color='#222'),
                     ticklabelstandoff=0)
    xa, ya = new_axes(p0, p1, 942, 1254, span_range(p0, p1, first, step), b_yr, yopts=yopts)
    dots(rows, B_SLOTS, n, xa, ya, color, B_PCT, b_size)

label(363, 911.7, 'Temporal lobe: allo−, meso− and neocortex', 16.4)
label(775.7, 912.7, 'Prefrontal neocortex', 16.4)
line([104, 622.7], [923.7, 923.7], 'black', 1.3)
line([643.3, 907.3], [923.7, 923.7], 'black', 1.3)
for name, x in zip(REGIONS, [159, 315.7, 517, 775.7]):
    label(x, 935.3, name, 17)
label(26, 983, 'layer−specific', 13.5, angle=-90)
label(39, 963, 'up', 13.5, angle=-90)
label(39, 1001.7, 'deep', 13.5, angle=-90)
label(26, 1140, 'Region−specific', 13.5, angle=-90)
for y0, y1 in [(946.7, 979.3), (985, 1019), (1029, 1251)]:
    line([46, 46], [y0, y1], 'black', 1.2)
for x0, x1 in [(98, 117.7), (122.3, 132.3), (137, 153.7), (159.3, 176), (182.7, 212.3)]:
    line([x0, x1], [1254.7, 1254.7], '#333', 1.3)
for s, x, y in [('GC', 110, 1264), ('CA2−4', 150, 1264), ('SUB', 197, 1264), ('MC', 130, 1276.7), ('CA1', 170.7, 1276.7)]:
    label(x, y, s, 12.5)
for x0, x1, lx, rx in [(222.7, 396.7, 231, 392.7), (406, 630, 413.3, 626.7), (635.7, 915, 643.3, 912)]:
    line([x0, x1 - 8], [1254.7, 1254.7], '#222', 1.5)
    fig.add_trace(go.Scatter(x=[x1 - 6], y=[1254.7], mode='markers', hoverinfo='skip',
                             marker=dict(symbol='triangle-right', size=12, color='black', line=dict(width=0))))
    label(lx, 1263, 'L2', 12.5)
    label(rx, 1263, 'L6', 12.5)
label(384, 1285, 'Percent Expressed', 18.9)
fig.add_trace(go.Scatter(x=[483.3, 541.3, 599, 656.7], y=[1285] * 4, mode='markers', hoverinfo='skip',
                         marker=dict(size=[b_size(p) for p in B_LEGEND], color='black', line=dict(width=0))))
for p, x in zip(B_LEGEND, [512.7, 570.7, 628.7, 691.7]):
    label(x, 1285, str(p), 16.5)

# --- PANEL C ---
xa, ya = new_axes(1036.3, 1196, 911.7, 1017.7, (0, 1), (0, 1),
                  xopts=dict(visible=True, showline=True, linecolor='black', linewidth=1.5, showgrid=False, zeroline=False, showticklabels=False, ticks=''),
                  yopts=dict(visible=True, showline=True, linecolor='black', linewidth=1.5, showgrid=False, zeroline=False, showticklabels=False, ticks=''))
for t in SCHEMA_T:
    line([t, t], [.025, .99], '#999', 1.3, '5px,4px', xa, ya)
line(SCHEMA_OTHER_X, SCHEMA_OTHER, '#999', 5, '10px,5px', xa, ya)
line(SCHEMA_X, SCHEMA_HIP, '#62C9C5', 4.5, None, xa, ya)
label(1019.3, 963, 'Expression', 16.5, angle=-90)
line([1049, 1071], [1029, 1029], '#62C9C5', 4.5)
line([1049, 1071], [1045.7, 1045.7], '#999', 4.5, '9px,4px')
label(1083, 1029, 'HIP', 15, 'left')
label(1083, 1045.7, 'All other regions', 15, 'left')
for (top_line, low_line), color, y in zip(C_REGIONS, C_COLORS, [906.7, 932.7, 959.3, 985.7, 1012.3, 1038.7]):
    fig.add_trace(go.Scatter(x=[1238.3], y=[y], mode='markers', hoverinfo='skip',
                             marker=dict(size=10, color=color, line=dict(color='#777', width=.6))))
    label(1249, y - 5.8, top_line, 10.5, 'left')
    label(1249, y + 5.8, low_line, 10.5, 'left')

C_X = list(range(len(C_GENES)))
c_xr = span_range(1002, 1352.3, 1011, 15.17, 0)
tick = dict(visible=True, showgrid=False, zeroline=False, showline=False, ticks='outside', ticklen=5, tickwidth=1.5,
            tickcolor='black', tickfont=dict(size=12.5, family=FONT, color='#111'))
xa1, ya1 = new_axes(1002, 1352.3, 1069, 1167, c_xr, (-3.3, 4.0), yopts=dict(tick, tickvals=[-2, 0, 2, 4]))
for vals, color in zip([C_NCX, C_HIP, C_AMY, C_STR, C_MD, C_CBC], C_COLORS):
    fig.add_trace(go.Bar(x=C_X, y=vals, xaxis=xa1, yaxis=ya1, marker=dict(color=color, line=dict(width=0)), hoverinfo='skip'))
line([c_xr[0], c_xr[0]], [-2, 4], 'black', 1.5, None, xa1, ya1)
xa2, ya2 = new_axes(1002, 1352.3, 1181, 1239, c_xr, (-4.92, 1.0),
                    xopts=dict(tick, tickvals=C_X, ticktext=C_GENES, tickangle=-45, tickfont=dict(size=12, family=FONT, color='#111')),
                    yopts=dict(tick, tickvals=[-4, -3, -2, -1, 0, 1]))
fig.add_trace(go.Bar(x=C_X, y=C_DIFF, xaxis=xa2, yaxis=ya2, width=.8, hoverinfo='skip',
                     marker=dict(color='#CFCFCF', line=dict(color='#A5A5A5', width=1))))
line([c_xr[0], c_xr[0]], [-4, 1], 'black', 1.5, None, xa2, ya2)
line([0, 22], [-4.92, -4.92], 'black', 1.5, None, xa2, ya2)
label(959, 1102.7, 'time group−region', 11.5, angle=-90)
label(972, 1102.7, 'coefficient', 11.5, angle=-90)
label(959, 1208, 'coef diff', 11.5, angle=-90)
label(972, 1208, '[HIP − max(others)]', 11.5, angle=-90)

# --- PANEL D ---


def tint(color, alpha):
    r, g, b = int(color[1:3], 16), int(color[3:5], 16), int(color[5:7], 16)
    return f'rgba({r},{g},{b},{alpha})'


def blob(points, xa, ya, color, shift=0, density=None):
    us = [p[0] + shift for p in points] + [points[0][0] + shift]
    vs = [p[1] for p in points] + [points[0][1]]
    opts = dict(fillcolor=color)
    if density:
        # speckled cells: a thin wash of the colour under a fine dot screen
        opts = dict(fillcolor=tint(color, density), fillpattern=dict(shape='.', fgcolor=color, bgcolor=tint(color, density),
                                                                     size=3.2, solidity=density))
    fig.add_trace(go.Scatter(x=us, y=vs, mode='lines', fill='toself', xaxis=xa, yaxis=ya, hoverinfo='skip',
                             line=dict(width=0, shape='spline', smoothing=.8), **opts))


def base(xa, ya):
    for poly in [UP_MAIN, UP_STEM, UP_TAIL, LOW_MAIN]:
        blob(poly, xa, ya, '#E4E4E4')
    blob(UP_HOLE, xa, ya, '#FFFFFF')
    blob(LOW_GAP, xa, ya, '#FFFFFF', 0, .4)


u_range, v_range = (770, 1270), (880, 120)
d_boxes = [-955.5, -637, -322, 0]
d_axes = [new_axes(1013.9 + d, 1230.7 + d, 1350, 1603.3, u_range, v_range) for d in d_boxes]

xa, ya = d_axes[0]
base(xa, ya)
for poly in HIP_DOTTED:
    blob(poly, xa, ya, RED, 635, .45)
for poly in HIP_SOLID:
    blob(poly, xa, ya, RED, 635)
xa, ya = d_axes[1]
base(xa, ya)
for poly in EC_DOTTED:
    blob(poly, xa, ya, GREEN, -99, .2)
for poly in EC_SOLID:
    blob(poly, xa, ya, GREEN, -99)
xa, ya = d_axes[2]
base(xa, ya)
for poly in MTG_DOTTED:
    blob(poly, xa, ya, ORANGE, 742, .28)
xa, ya = d_axes[3]
base(xa, ya)
for poly in PFC_SOLID:
    blob(poly, xa, ya, BLUE)
blob(UP_HOLE, xa, ya, '#FFFFFF')
for poly in PFC_GREY:
    blob(poly, xa, ya, '#E4E4E4')
for poly in PFC_FLECKS:
    blob(poly, xa, ya, '#FFFFFF', 0, .25)

for name, x in zip(REGIONS, [190.4, 496.5, 816.6, 1132.3]):
    label(x, 1339, name, 20.5)
for name, color, y in zip(REGIONS, REGION_COLORS, [1440, 1465, 1491, 1516.7]):
    fig.add_trace(go.Scatter(x=[1281.5], y=[y], mode='markers', hoverinfo='skip',
                             marker=dict(size=19, color=color, line=dict(width=0))))
    label(1300, y, name, 20.5, 'left')
for s, x, y, size in [('PVALB', 286, 1365.7, 23), ('SST', 170, 1392.7, 23), ('InN <i>SST ADAMTS12</i>', 326.8, 1417, 24.3),
                      ('PVALB', 81.5, 1428, 23), ('LAMP5', 106, 1481, 23), ('MEIS2', 301.4, 1472.7, 23),
                      ('NR2F2<sup>+</sup>', 123.6, 1560.7, 23), ('VIP<sup>-</sup>LAMP5<sup>-</sup>', 123.6, 1589, 23),
                      ('VIP', 284, 1564, 23)]:
    label(x, y, s, size)
arrow(327.4, 1431.7, 192, 1447.3)
arrow(294.9, 1485.7, 203, 1499.3)
for cx, cy, rx, ry in [(172.6, 1438.3, 17.5, 18), (194.7, 1494.7, 13.5, 14)]:
    shapes.append(dict(type='circle', xref='x', yref='y', x0=cx - rx, x1=cx + rx, y0=cy - ry, y1=cy + ry,
                       line=dict(color='#222', width=1, dash='2px,2px')))

# --- PANEL E ---
E_SLOTS = list(range(15))
e_yr = span_range(1860.7, 1662, 1670.7, 13.05, 0)
e_size = lambda p: .15 * p + 2.5
e_panels = [(E_HIP, 23, 137, 11.41, 130.8, 395.5, RED), (E_EC, 20, 430.8, 13.16, 422, 689.7, GREEN),
            (E_MTG, 13, 727.7, 20.17, 716, 983.6, ORANGE), (E_PFC, 13, 1022, 20.17, 1010, 1277, BLUE)]
for k, (rows, n, first, step, p0, p1, color) in enumerate(e_panels):
    xopts = dict(visible=True, showline=True, linecolor='#333', linewidth=2, showgrid=False, zeroline=False,
                 showticklabels=False, ticks='')
    yopts = None
    if k == 0:
        tt = [f'<i><span style="color:#EE1C2E">{g}</span></i>' if g in ('EVC2', 'EVC') else f'<i>{g}</i>' for g in E_GENES]
        yopts = dict(visible=True, showline=True, linecolor='#333', linewidth=2, showgrid=False, zeroline=False,
                     ticks='outside', ticklen=6, tickwidth=1.2, tickcolor='#333', tickvals=E_SLOTS, ticktext=tt,
                     tickfont=dict(size=13.5, family=FONT, color='#222'))
    xa, ya = new_axes(p0, p1, 1662, 1860.7, span_range(p0, p1, first, step), e_yr, xopts, yopts)
    dots(rows, E_SLOTS, n, xa, ya, color, E_PCT, e_size)

label(673, 1645, 'Expression of specific markers of InN SST ADAMTS12', 23.3)
for s, x in [('HIP all InN clusters', 274), ('EC all InN clusters', 556), ('MTG all SST+ InN clusters', 849.5),
             ('PFC all SST+ InN clusters', 1141)]:
    label(x, 1881, s, 21.4)
label(363.4, 1906, 'InN <i>SST ADAMTS12</i>', 15.5)
arrow(363.8, 1900, 293.3, 1857.3)
shapes.append(dict(type='rect', xref='x', yref='y', x0=275.4, x1=292.4, y0=1660, y1=1855,
                   line=dict(color='#666', width=1.2, dash='6px,4px')))
label(1290.6, 1765.7, 'Percent Expressed', 16, angle=-90)
fig.add_trace(go.Scatter(x=[1317.5] * 3, y=[1709, 1762, 1815], mode='markers', hoverinfo='skip',
                         marker=dict(size=[e_size(p) for p in E_LEGEND], color='black', line=dict(width=0))))
for p, y in zip(E_LEGEND, [1709, 1762, 1815]):
    label(1331.8, y, str(p), 24, 'left')

fig.update_layout(
    template='none', width=W, height=H, margin=dict(l=0, r=0, t=0, b=0, pad=0), autosize=False, showlegend=False,
    paper_bgcolor='white', plot_bgcolor='rgba(0,0,0,0)', font=dict(family=FONT), barmode='group', bargap=.13, bargroupgap=0,
    xaxis=dict(domain=[0, 1], range=[0, W], visible=False, fixedrange=True, automargin=False),
    yaxis=dict(domain=[0, 1], range=[H, 0], visible=False, fixedrange=True, automargin=False),
    annotations=annotations, shapes=shapes, **axes)
fig.write_html('out.html', post_script="document.body.style.margin='0';", config={'displayModeBar': False})
